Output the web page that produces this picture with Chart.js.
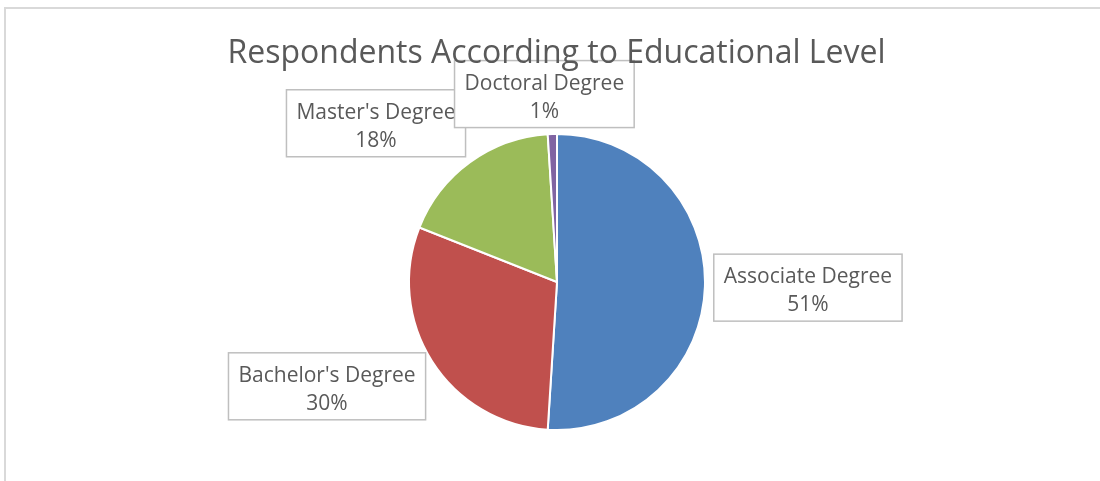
<!DOCTYPE html>
<html>
<head>
<meta charset="utf-8">
<script src="https://cdn.jsdelivr.net/npm/chart.js@4.4.1/dist/chart.umd.min.js"></script>
<style>
	html, body { margin: 0; padding: 0; background: #fff; overflow: hidden; }
	#wrap { width: 1100px; height: 481px; position: relative; }
</style>
</head>
<body>
<div id="wrap"><canvas id="chart-1"></canvas></div>
<script>
const categories = ["Associate Degree", "Bachelor's Degree", "Master's Degree", "Doctoral Degree"];
const shares = [51, 30, 18, 1];
const sliceColors = ["#4F81BD", "#C0504D", "#9BBB59", "#8064A2"];
const chartTitle = "Respondents According to Educational Level";

// where each label box sits, relative to the outer edge of its slice
const labelOffsets = [[103, 1], [-105, 25], [-94, -39], [-8, -40]];

const textColor = "#595959";
const labelFont = "21px 'Open Sans'";
const titleFont = "32px 'Open Sans'";

const decorations = {
	id: "decorations",
	afterDraw(chart) {
		const ctx = chart.ctx;
		ctx.save();

		// outer frame, runs off the right and bottom
		ctx.strokeStyle = "#d9d9d9";
		ctx.lineWidth = 2;
		ctx.strokeRect(5, 8, 1200, 600);

		const meta = chart.getDatasetMeta(0);
		const total = shares.reduce((a, b) => a + b, 0);
		ctx.font = labelFont;
		meta.data.forEach((arc, i) => {
			const mid = (arc.startAngle + arc.endAngle) / 2;
			const ax = arc.x + Math.cos(mid) * arc.outerRadius;
			const ay = arc.y + Math.sin(mid) * arc.outerRadius;
			const cx = ax + labelOffsets[i][0];
			const cy = ay + labelOffsets[i][1];
			const pct = Math.round(shares[i] / total * 100) + "%";
			const w = Math.max(ctx.measureText(categories[i]).width, ctx.measureText(pct).width) + 20;
			const h = 67;
			ctx.fillStyle = "#fff";
			ctx.fillRect(cx - w / 2, cy - h / 2, w, h);
			ctx.strokeStyle = "#bfbfbf";
			ctx.lineWidth = 1.5;
			ctx.strokeRect(cx - w / 2, cy - h / 2, w, h);
			ctx.fillStyle = textColor;
			ctx.textAlign = "center";
			ctx.textBaseline = "alphabetic";
			ctx.fillText(categories[i], cx, cy - 4.5);
			ctx.fillText(pct, cx, cy + 23.5);
		});

		ctx.font = titleFont;
		ctx.fillStyle = textColor;
		ctx.textAlign = "center";
		ctx.textBaseline = "alphabetic";
		ctx.fillText(chartTitle, 556.5, 63);
		ctx.restore();
	}
};

new Chart("chart-1", {
	type: "pie",
	data: {
		labels: categories,
		datasets: [{
			data: shares,
			backgroundColor: sliceColors,
			borderColor: "#ffffff",
			borderWidth: 2
		}]
	},
	options: {
		responsive: true,
		maintainAspectRatio: false,
		animation: false,
		layout: { padding: { top: 133, bottom: 50, left: 14, right: 0 } },
		plugins: {
			legend: { display: false },
			tooltip: { enabled: false },
			title: { display: false }
		}
	},
	plugins: [decorations]
});
</script>
</body>
</html>
